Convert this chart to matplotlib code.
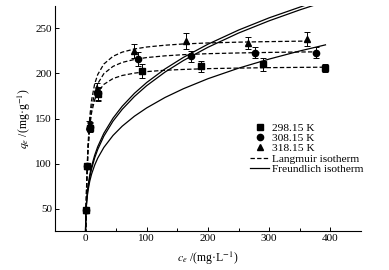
import matplotlib
matplotlib.use('Agg')
import matplotlib.pyplot as plt
from matplotlib.lines import Line2D

plt.rcParams['font.family'] = ['Liberation Serif', 'DejaVu Serif']
plt.rcParams['mathtext.fontset'] = 'stix'

# measured points (c_e, q_e, error)
c_298 = [0.5, 2, 7.5, 21, 93, 188, 290, 392]
q_298 = [48, 97, 140, 177, 203, 208, 210, 206]
e_298 = [2, 3, 5, 7, 8, 6, 7, 4]

c_308 = [0.5, 2, 7, 20, 86, 173, 277, 377]
q_308 = [48, 97, 141, 178, 216, 219, 223, 223]
e_308 = [2, 3, 5, 7, 8, 6, 6, 6]

c_318 = [0.5, 2, 6.5, 18.5, 79, 164, 266, 362]
q_318 = [48, 97, 142, 183, 225, 236, 234, 238]
e_318 = [2, 3, 5, 7, 8, 9, 7, 8]

# fitted curves
lc_298 = [0, 1, 2, 4, 7, 10, 15, 20, 30, 45, 60, 80, 100, 130, 160, 200, 250, 300, 350, 392]
lq_298 = [0, 48.2, 78.3, 113.9, 141.4, 156.6, 170.8, 179.0, 187.9, 194.4, 197.8, 200.4,
          202.1, 203.6, 204.5, 205.4, 206.0, 206.5, 206.8, 207.0]
lc_308 = [0, 1, 2, 4, 7, 10, 15, 20, 30, 45, 60, 80, 100, 130, 160, 200, 250, 300, 340, 377]
lq_308 = [0, 45.3, 75.5, 113.2, 144.1, 161.7, 178.7, 188.7, 199.8, 207.9, 212.3, 215.6,
          217.7, 219.6, 220.9, 222.0, 222.8, 223.4, 223.8, 224.0]
lc_318 = [0, 1, 2, 4, 7, 10, 15, 20, 30, 45, 60, 80, 100, 130, 160, 200, 250, 300, 362]
lq_318 = [0, 47.7, 79.5, 119.3, 151.8, 170.4, 188.3, 198.8, 210.5, 219.1, 223.7, 227.2,
          229.4, 231.4, 232.8, 233.9, 234.8, 235.4, 236.0]

fc_298 = [0, 0.1, 0.5, 1, 2, 4, 7, 10, 15, 20, 30, 45, 60, 80, 100, 130, 160, 200, 250, 300, 350, 392]
fq_298 = [0, 26.3, 40.2, 48.2, 57.8, 69.4, 80.4, 88.3, 98.2, 106.0, 117.9, 131.2, 141.5,
          152.6, 161.8, 173.4, 183.1, 194.2, 205.9, 216.0, 225.0, 231.8]
fc_308 = [0, 0.1, 0.5, 1, 2, 4, 7, 10, 15, 20, 30, 45, 60, 80, 100, 130, 160, 200, 250, 300, 350, 377]
fq_308 = [0, 24.0, 38.7, 47.5, 58.4, 71.7, 84.7, 94.1, 106.2, 115.6, 130.4, 147.1, 160.2,
          174.5, 186.5, 201.6, 214.4, 229.1, 244.9, 258.5, 270.6, 276.6]
fc_318 = [0, 0.1, 0.5, 1, 2, 4, 7, 10, 15, 20, 30, 45, 60, 80, 100, 130, 160, 200, 250, 300, 362]
fq_318 = [0, 25.3, 40.4, 49.5, 60.6, 74.2, 87.4, 97.0, 109.1, 118.7, 133.6, 150.4, 163.6,
          178.0, 190.0, 205.1, 217.9, 232.5, 248.2, 261.8, 276.5]

fig = plt.figure(figsize=(3.89, 2.70), dpi=100)
ax = fig.add_axes([0.141, 0.144, 0.787, 0.834])

dash = (0, (3.5, 1.8))
for lc, lq in [(lc_298, lq_298), (lc_308, lq_308), (lc_318, lq_318)]:
    ax.plot(lc, lq, color='black', lw=0.9, linestyle=dash)
for fc, fq in [(fc_298, fq_298), (fc_308, fq_308), (fc_318, fq_318)]:
    ax.plot(fc, fq, color='black', lw=0.9)

for c, q, e, m in [(c_298, q_298, e_298, 's'), (c_308, q_308, e_308, 'o'), (c_318, q_318, e_318, '^')]:
    ax.errorbar(c, q, yerr=e, fmt=m, color='black', ms=4.5, elinewidth=0.7,
                capsize=2, capthick=0.7, zorder=3)

ax.set_xlim(-50, 450)
ax.set_ylim(25, 275)
ax.set_xticks([0, 100, 200, 300, 400])
ax.set_xticks([50, 150, 250, 350], minor=True)
ax.set_yticks([50, 100, 150, 200, 250])
ax.spines['top'].set_visible(False)
ax.spines['right'].set_visible(False)
ax.tick_params(direction='in', length=3, width=0.7, labelsize=8, pad=2)
ax.tick_params(which='minor', direction='in', length=2, width=0.7)
for s in ['left', 'bottom']:
    ax.spines[s].set_linewidth(0.8)

ax.set_xlabel(r'$c_e$ /(mg·L$^{-1}$)', fontsize=8.5, labelpad=5)
ax.set_ylabel(r'$q_e$ /(mg·g$^{-1}$)', fontsize=8.5, labelpad=2)

handles = [
    Line2D([], [], marker='s', color='black', ls='none', ms=4.5),
    Line2D([], [], marker='o', color='black', ls='none', ms=4.5),
    Line2D([], [], marker='^', color='black', ls='none', ms=4.5),
    Line2D([], [], color='black', lw=0.9, linestyle=dash),
    Line2D([], [], color='black', lw=0.9),
]
labels = ['298.15 K', '308.15 K', '318.15 K', 'Langmuir isotherm', 'Freundlich isotherm']
ax.legend(handles, labels, loc='upper left', bbox_to_anchor=(0.63, 0.49), frameon=False,
          fontsize=8.2, handlelength=1.7, handletextpad=0.25, labelspacing=0.02,
          borderpad=0.2, borderaxespad=0)

fig.savefig('out.png', dpi=100)
